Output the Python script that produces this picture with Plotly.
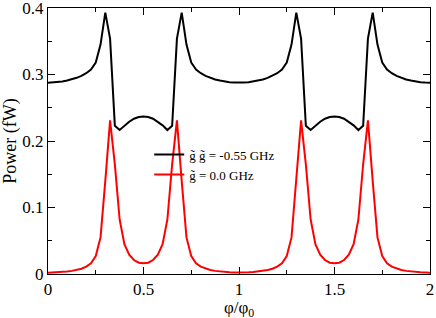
import plotly.graph_objects as go

phi = [round(i * 0.025, 3) for i in range(81)]

black_period = [0.2875, 0.2878, 0.2885, 0.2895, 0.291, 0.2925, 0.295, 0.298, 0.302, 0.3075,
                0.318, 0.345, 0.393, 0.354, 0.223, 0.2165, 0.2235, 0.229, 0.2335, 0.236, 0.237,
                0.236, 0.2335, 0.229, 0.2235, 0.2165, 0.223, 0.354, 0.393, 0.345, 0.318,
                0.3075, 0.302, 0.298, 0.295, 0.2925, 0.291, 0.2895, 0.2885, 0.2878]
red_period = [0.002, 0.0022, 0.0025, 0.003, 0.0037, 0.0047, 0.006, 0.008, 0.011, 0.016,
              0.027, 0.055, 0.14, 0.231, 0.165, 0.082, 0.045, 0.029, 0.021, 0.017, 0.016,
              0.017, 0.021, 0.029, 0.045, 0.082, 0.165, 0.231, 0.14, 0.055, 0.027,
              0.016, 0.011, 0.008, 0.006, 0.0047, 0.0037, 0.003, 0.0025, 0.0022]

power_black = black_period + black_period + [0.2875]
power_red = red_period + red_period + [0.002]

series_names = ["g\u0303 g\u0303 = -0.55 GHz", "g\u0303 = 0.0 GHz"]
x_ticks = [0, 0.5, 1, 1.5, 2]
x_labels = ["0", "0.5", "1", "1.5", "2"]
y_ticks = [0, 0.1, 0.2, 0.3, 0.4]
y_labels = ["0", "0.1", "0.2", "0.3", "0.4"]
x_title = "\u03c6/\u03c6<sub>0</sub>"
y_title = "Power (fW)"

FONT = "Liberation Serif"

fig = go.Figure()
fig.add_trace(go.Scatter(x=phi, y=power_black, mode="lines", name=series_names[0],
                         line=dict(color="black", width=2)))
fig.add_trace(go.Scatter(x=phi, y=power_red, mode="lines", name=series_names[1],
                         line=dict(color="#ff0000", width=2)))

axis_common = dict(showline=True, linecolor="black", linewidth=1, mirror="ticks",
                   ticks="inside", ticklen=7, tickcolor="black", tickwidth=1,
                   showgrid=False, zeroline=False, ticklabeloverflow="allow",
                   tickfont=dict(family=FONT, size=17, color="black"))

fig.update_xaxes(range=[0, 2], tickvals=x_ticks, ticktext=x_labels,
                 minor=dict(ticks="inside", ticklen=4, dtick=0.25, tickcolor="black"),
                 automargin=False,
                 **axis_common)
fig.update_yaxes(range=[0, 0.4], tickvals=y_ticks, ticktext=y_labels,
                 minor=dict(ticks="inside", ticklen=4, dtick=0.05, tickcolor="black"),
                 title=dict(text=y_title, font=dict(family=FONT, size=18, color="black"),
                            standoff=2),
                 automargin=False,
                 **axis_common)

fig.add_annotation(text=x_title, xref="paper", yref="paper", x=0.5, y=-0.084,
                   xanchor="center", yanchor="top", showarrow=False,
                   font=dict(family=FONT, size=17, color="black"))

fig.update_layout(
    width=436, height=318,
    margin=dict(l=48, r=6, t=8, b=44),
    paper_bgcolor="white", plot_bgcolor="white",
    font=dict(family=FONT, color="black"),
    legend=dict(x=0.265, y=0.505, xanchor="left", yanchor="top",
                bgcolor="rgba(0,0,0,0)", font=dict(family=FONT, size=13, color="black"),
                itemwidth=30, tracegroupgap=0),
)

fig.write_html("out.html", config={"displayModeBar": False},
               post_script="document.body.style.margin='0';document.body.style.overflow='hidden';")
